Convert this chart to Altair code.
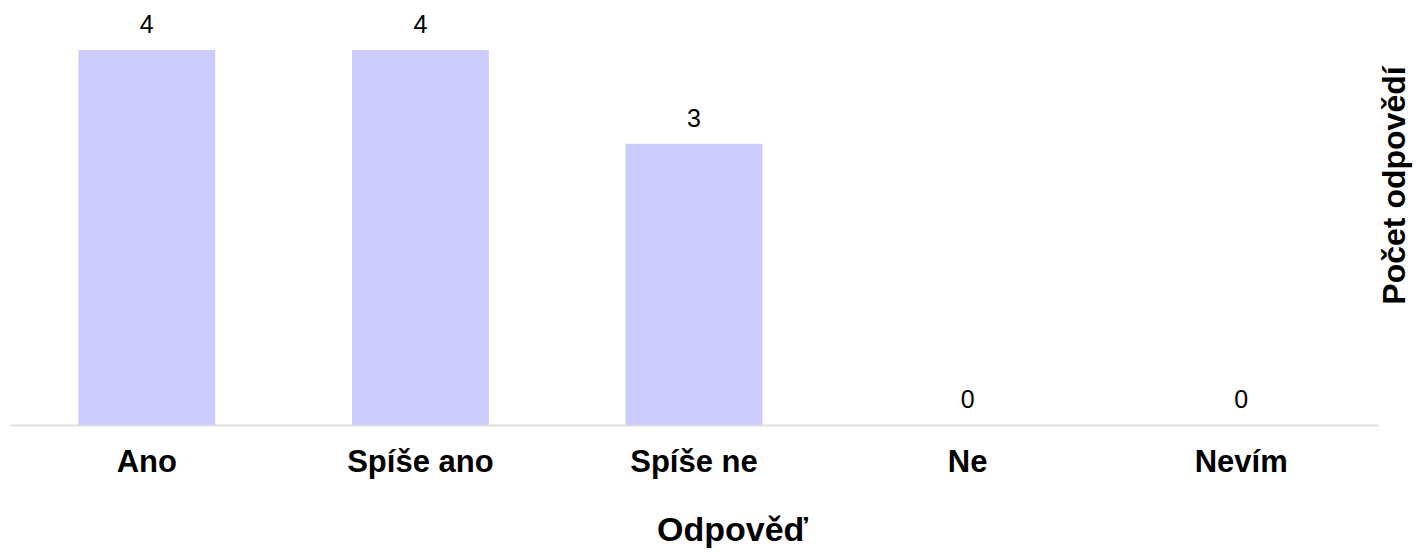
import altair as alt
import pandas as pd

categories = ["Ano", "Spíše ano", "Spíše ne", "Ne", "Nevím"]
counts = [4, 4, 3, 0, 0]

df = pd.DataFrame({"Odpověď": categories, "Počet": counts})

FONT = "Liberation Sans"

x = alt.X(
    "Odpověď:N",
    sort=categories,
    scale=alt.Scale(paddingInner=0.5, paddingOuter=0.25),
    axis=alt.Axis(
        title="Odpověď",
        labelAngle=0,
        labelFont=FONT,
        labelFontSize=31,
        labelFontWeight="bold",
        labelColor="#000000",
        labelPadding=22,
        ticks=False,
        domainColor="#dddddd",
        domainWidth=2,
        titleFont=FONT,
        titleFontSize=34,
        titleFontWeight="bold",
        titleColor="#000000",
        titleBaseline="alphabetic",
        titleAlign="center",
        titleX=722,
        titleY=115,
    ),
)

y = alt.Y(
    "Počet:Q",
    scale=alt.Scale(domain=[0, 4], nice=False),
    axis=alt.Axis(
        orient="right",
        title="Počet odpovědí",
        titleAngle=270,
        titleFont=FONT,
        titleFontSize=32,
        titleFontWeight="bold",
        titleColor="#000000",
        titleBaseline="alphabetic",
        titleAlign="center",
        titleX=26,
        titleY=135,
        labels=False,
        ticks=False,
        domain=False,
        grid=False,
    ),
)

bars = alt.Chart(df).mark_bar(color="#ccccff").encode(x=x, y=y)

text = alt.Chart(df).mark_text(
    baseline="alphabetic", dy=-17, font=FONT, fontSize=25, color="#000000"
).encode(x=alt.X("Odpověď:N", sort=categories), y="Počet:Q", text="Počet:Q")

chart = (
    alt.layer(bars, text)
    .properties(
        width=1368,
        height=375,
        autosize=alt.AutoSizeParams(type="none"),
        padding={"left": 2, "top": 42, "right": 38, "bottom": 123},
    )
    .configure_view(stroke=None)
)

chart.save("out.html", embed_options={"renderer": "svg", "actions": False})
